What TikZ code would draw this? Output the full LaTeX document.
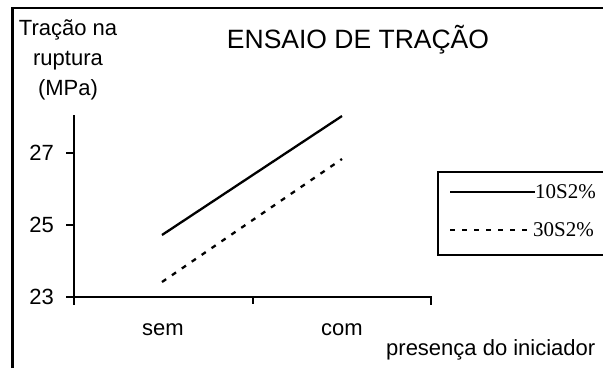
\documentclass[tikz,border=0pt]{standalone}
\usepackage{fontspec}
\setmainfont{Liberation Sans}
\newfontfamily\legendfont{Liberation Serif}
\tikzset{
  plotline/.style={line width=2.3pt},
  dashline/.style={line width=2.3pt, dash pattern=on 5pt off 7pt},
  lbl/.style={inner sep=0pt, node font=\fontsize{22}{30}\selectfont},
  leglbl/.style={inner sep=0pt, anchor=west, node font=\legendfont\fontsize{21}{24}\selectfont}
}
\begin{document}
\begin{tikzpicture}[x=1pt, y=-1pt]
\useasboundingbox (0, 0) rectangle (603, 368);
% frame and legend box
\draw [line width=2.3pt] (12.5, 368) -- (12.5, 8) -- (603, 8);
\draw [line width=2.3pt] (603, 172) -- (438, 172) -- (438, 255) -- (603, 255);
% axes
\coordinate (origin) at (74, 297);
\draw [line width=2.3pt] (74, 115) -- (74, 305);
\draw [line width=2.3pt] (66, 297) -- (431, 297) -- (431, 305);
\draw [line width=2.3pt] (253, 297) -- (253, 304);
\foreach \y in {153, 225, 297}
  \draw [line width=2.3pt] (66, \y) -- (74, \y);
\node [lbl, anchor=east] (t27) at (54, 153) {27};
\node [lbl, anchor=east] (t25) at (54, 225) {25};
\node [lbl, anchor=east] (t23) at (54, 297) {23};
\node [lbl] (sem) at (163, 330) {sem};
\node [lbl] (com) at (342, 330) {com};
% data
\coordinate (a1) at (162, 235);
\coordinate (a2) at (342, 116);
\coordinate (b1) at (162, 282);
\coordinate (b2) at (342, 159);
\draw [plotline] (a1) -- (a2);
\draw [dashline] (b1) -- (b2);
% legend
\coordinate (l1) at (450, 192);
\coordinate (l2) at (450, 230);
\node [leglbl] (s10) at (535, 192) {10S2\%};
\node [leglbl] (s30) at (533, 230) {30S2\%};
\draw [plotline] (l1) -- (s10.west);
\draw [dashline] (l2) -- (s30.west);
% texts
\node [node font=\fontsize{26.5}{30}\selectfont, inner sep=0pt, anchor=base] (title) at (358, 48) {ENSAIO DE TRAÇÃO};
\node [lbl, anchor=base] (ylbl1) at (68, 35) {Tração na};
\node [lbl, anchor=base] (ylbl2) at (68, 65) {ruptura};
\node [lbl, anchor=base] (ylbl3) at (68, 95) {(MPa)};
\node [lbl, anchor=base west] (xlbl) at (386, 355) {presença do iniciador};
\end{tikzpicture}
\end{document}
